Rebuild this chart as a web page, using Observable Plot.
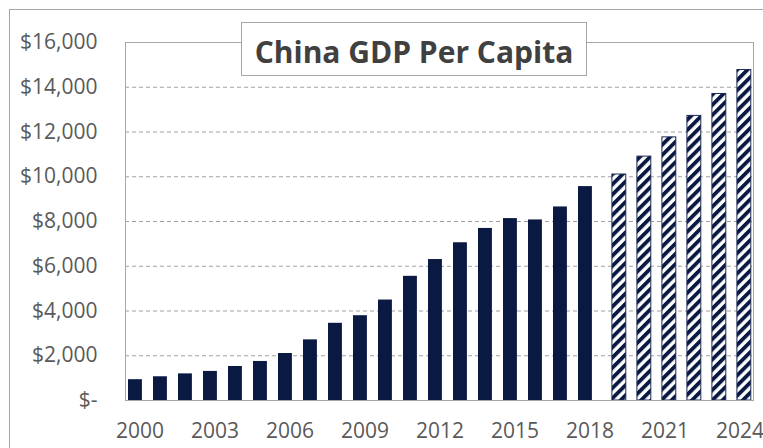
<!DOCTYPE html>
<html>
<head>
<meta charset="utf-8">
<script src="https://cdn.jsdelivr.net/npm/d3@7"></script>
<script src="https://cdn.jsdelivr.net/npm/@observablehq/plot@0.6"></script>
<style>
  html, body { margin: 0; padding: 0; background: white; }
  #wrap { position: relative; width: 763px; height: 448px; overflow: hidden; background: white; }
  #outer { position: absolute; left: 9px; top: 9px; width: 900px; height: 600px; border: 1px solid #a6a6a6; box-sizing: border-box; pointer-events: none; }
  #title { position: absolute; left: 241px; top: 22px; width: 346px; height: 54px; box-sizing: border-box;
    border: 1px solid #a6a6a6; background: white; display: flex; align-items: center; justify-content: center;
    padding-top: 4px; font-family: "Open Sans", sans-serif; font-weight: 700; font-size: 30px; color: #404040; white-space: nowrap; }
</style>
</head>
<body>
<div id="wrap"><div id="outer"></div></div>
<script>
const years = [2000, 2001, 2002, 2003, 2004, 2005, 2006, 2007, 2008, 2009, 2010, 2011, 2012,
  2013, 2014, 2015, 2016, 2017, 2018, 2019, 2020, 2021, 2022, 2023, 2024];
const gdpPerCapita = [930, 1060, 1190, 1300, 1520, 1745, 2100, 2710, 3450, 3790, 4490, 5550, 6300,
  7050, 7690, 8130, 8070, 8650, 9560, 10100, 10900, 11760, 12720, 13700, 14770];
const firstForecastYear = 2019;
const yTicks = [0, 2000, 4000, 6000, 8000, 10000, 12000, 14000, 16000];
const gridValues = [2000, 4000, 6000, 8000, 10000, 12000, 14000];
const xTickYears = [2000, 2003, 2006, 2009, 2012, 2015, 2018, 2021, 2024];
const titleText = "China GDP Per Capita";

const rows = years.map((year, i) => ({year, value: gdpPerCapita[i]}));
const actual = rows.filter(d => d.year < firstForecastYear);
const forecast = rows.filter(d => d.year >= firstForecastYear);

const navy = "#0a1942";
const fmt = d3.format(",");

const chart = Plot.plot({
  width: 763,
  height: 448,
  marginLeft: 125,
  marginRight: 10,
  marginTop: 42,
  marginBottom: 48,
  style: {background: "transparent", fontFamily: "'Open Sans', sans-serif", fontSize: "21px", color: "#595959", overflow: "visible"},
  x: {type: "band", domain: years, padding: 0},
  y: {domain: [0, 16000]},
  marks: [
    Plot.ruleY(gridValues, {stroke: "#a0a0a0", strokeDasharray: "4,3", strokeWidth: 1}),
    Plot.barY(actual, {x: "year", y: "value", fill: navy, insetLeft: 1, insetRight: 10.1}),
    Plot.barY(forecast, {x: "year", y: "value", fill: "url(#hatch)", stroke: "#1c2b58", strokeWidth: 1, insetLeft: 9.9, insetRight: 1.2}),
    Plot.frame({stroke: "#a6a6a6"}),
    Plot.axisY({ticks: yTicks, tickSize: 0, tickPadding: 28, tickFormat: d => d === 0 ? "$-" : "$" + fmt(d), label: null, fontSize: 21}),
    Plot.axisX({ticks: xTickYears, tickSize: 0, tickPadding: 23, tickFormat: d => String(d), label: null, fontSize: 21})
  ]
});

// hatch pattern definition
const svg = d3.select(chart);
const defs = svg.insert("defs", ":first-child");
const pat = defs.append("pattern")
  .attr("id", "hatch")
  .attr("patternUnits", "userSpaceOnUse")
  .attr("width", 7.2)
  .attr("height", 7.2)
  .attr("patternTransform", "rotate(45)");
pat.append("rect").attr("width", 7.2).attr("height", 7.2).attr("fill", "white");
pat.append("rect").attr("width", 3.8).attr("height", 7.2).attr("fill", navy);

const wrap = document.getElementById("wrap");
chart.style.position = "absolute";
chart.style.left = "0px";
chart.style.top = "0px";
wrap.insertBefore(chart, wrap.firstChild);

const title = document.createElement("div");
title.id = "title";
title.textContent = titleText;
wrap.appendChild(title);
</script>
</body>
</html>
